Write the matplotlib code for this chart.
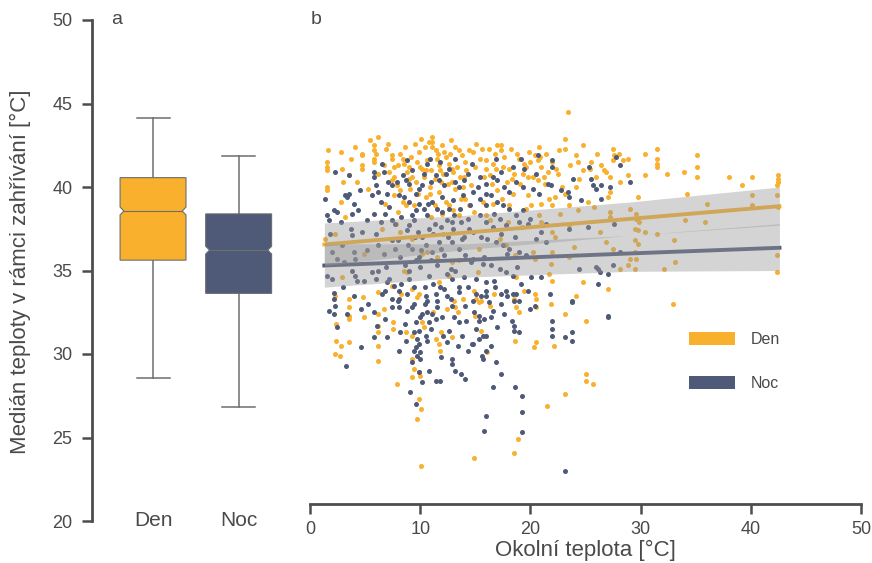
import matplotlib
matplotlib.use('Agg')
import matplotlib.pyplot as plt
from matplotlib.patches import Polygon, Patch
import numpy as np

plt.rcParams['font.family'] = ['Liberation Sans', 'DejaVu Sans']

# --- data: panel a (box summary) ---
groups = ['Den', 'Noc']
box_whislo = [28.54, 26.82]
box_q1 = [35.62, 33.63]
box_med = [38.56, 36.22]
box_q3 = [40.56, 38.39]
box_whishi = [44.14, 41.85]
box_cilo = [38.33, 35.99]
box_cihi = [38.80, 36.45]

# --- data: panel b (scatter) ---
den_points = [
    (1.55, 41.5), (1.55, 41.2), (1.55, 41.0), (1.55, 40.0), (1.55, 39.8), (2.85, 42.1), (2.9, 41.1),
    (3.7, 41.7), (3.5, 40.7), (4.7, 42.0), (4.7, 41.9), (4.7, 41.3), (4.7, 41.1), (2.85, 39.1),
    (6.2, 43.0), (5.8, 42.5), (5.8, 42.2), (5.8, 41.7), (5.8, 41.5), (6.7, 41.3), (6.2, 40.8),
    (7.45, 41.9), (7.45, 41.7), (7.6, 41.2), (8.2, 42.0), (8.4, 41.7), (8.5, 41.4), (9.0, 41.2), (8.8, 40.9),
    (7.9, 40.1), (8.2, 39.8), (7.6, 39.5), (9.3, 40.6), (9.6, 40.3), (9.9, 42.1), (10.0, 41.2), (10.2, 41.1),
    (11.1, 43.0), (11.1, 42.7), (11.1, 42.4), (10.8, 42.7), (11.4, 42.2), (11.5, 41.7), (11.7, 41.3),
    (12.3, 41.8), (12.6, 41.4), (12.9, 41.1), (13.5, 42.2), (13.8, 41.9), (14.1, 41.5), (14.4, 42.2),
    (12.9, 40.3), (13.2, 39.9), (13.7, 39.3), (14.1, 39.3), (14.4, 38.9), (12.3, 39.1), (12.6, 38.9),
    (8.4, 39.1), (8.7, 38.9), (9.4, 38.9), (11.7, 39.7), (10.9, 40.0), (13.5, 38.3), (7.6, 40.6), (7.45, 40.4),
    (2.3, 37.2), (1.4, 36.9), (4.9, 36.0), (2.9, 34.6), (8.5, 35.0), (8.8, 34.9), (7.45, 34.1), (11.7, 34.3),
    (12.6, 34.7), (10.2, 36.0), (10.6, 36.1), (11.5, 35.8), (12.9, 35.5), (13.5, 35.6), (8.2, 37.3), (9.3, 36.9),
    (9.5, 42.6), (10.4, 42.4), (12.0, 42.5), (12.8, 42.8), (13.2, 42.4), (10.6, 41.6), (11.0, 41.0), (12.1, 40.8),
    (13.0, 40.9), (14.0, 40.6), (9.8, 39.6), (10.5, 39.4), (11.3, 38.9), (12.0, 38.4), (13.9, 40.0), (11.9, 40.3),
    (10.3, 40.6), (9.1, 39.9), (8.0, 38.5), (6.8, 39.0), (6.5, 37.5), (5.3, 39.9), (4.3, 40.3), (3.2, 38.2),
    (23.4, 44.5), (23.1, 42.9), (23.1, 42.3), (24.75, 42.5), (17.0, 42.5), (17.3, 42.5), (17.3, 42.2), (20.8, 42.4),
    (19.0, 41.7), (19.45, 41.4), (20.4, 41.9), (20.7, 41.6), (21.0, 41.2), (14.75, 42.1), (15.4, 41.7), (15.96, 41.6),
    (16.6, 41.4), (16.9, 41.1), (17.5, 41.2), (18.1, 41.1), (18.5, 40.8), (19.3, 40.8), (19.75, 40.6), (20.2, 40.6),
    (20.65, 40.4), (21.6, 40.9), (22.5, 40.8), (24.1, 41.9), (24.3, 41.5), (25.5, 41.5), (25.4, 41.1), (26.4, 41.3),
    (27.5, 42.3), (27.6, 41.9), (27.5, 41.6), (28.4, 41.6), (28.85, 41.7), (26.9, 40.9), (27.2, 40.6), (25.96, 40.6),
    (24.45, 40.5), (24.1, 40.0), (28.1, 40.3), (28.85, 40.7), (22.9, 40.0), (23.1, 39.6), (22.2, 39.4), (22.0, 38.9),
    (23.5, 38.9), (27.2, 39.7), (27.0, 39.4), (25.2, 39.1), (21.7, 39.3), (20.05, 38.9), (19.6, 38.7), (18.1, 38.9),
    (16.6, 39.0), (15.7, 39.1), (20.8, 38.3), (20.95, 37.9), (22.0, 37.3), (22.2, 37.0), (23.5, 37.7), (27.2, 38.5),
    (27.2, 38.2), (26.3, 37.3), (29.0, 38.7), (20.2, 36.1), (20.4, 35.7), (22.0, 36.1), (21.9, 35.4), (23.5, 35.8),
    (26.9, 36.7), (27.5, 36.3), (28.1, 35.1), (28.85, 35.3), (29.0, 35.7), (21.7, 34.8), (18.7, 34.6), (24.75, 34.3),
    (22.0, 34.4), (15.2, 34.9), (17.2, 36.9), (17.8, 36.5), (15.1, 42.6), (16.2, 42.3), (15.8, 40.6), (16.5, 40.2),
    (17.9, 40.3), (18.8, 42.0), (19.9, 42.1), (21.4, 42.0), (22.0, 41.5), (21.3, 40.2), (18.4, 39.6), (17.0, 39.8),
    (16.0, 38.3), (19.2, 37.6), (18.0, 37.9),
    (31.45, 42.3), (31.45, 41.7), (31.45, 41.4), (31.45, 41.2), (30.4, 42.0), (30.4, 40.7), (32.4, 40.8), (33.9, 40.9),
    (35.1, 41.9), (35.1, 41.2), (35.1, 40.6), (38.0, 40.6), (40.15, 40.6), (39.2, 40.1), (42.5, 40.7), (42.5, 40.5),
    (42.5, 40.3), (42.4, 40.1), (29.8, 39.4), (34.2, 39.6), (36.05, 39.0), (40.15, 39.5), (40.15, 38.9), (42.4, 39.5),
    (42.5, 38.8), (29.6, 38.4), (29.6, 38.1), (29.9, 37.9), (34.0, 38.0), (35.85, 37.9), (29.5, 37.5), (29.8, 37.4),
    (30.4, 37.3), (31.45, 37.2), (29.5, 36.8), (29.8, 36.6), (33.0, 36.8), (29.5, 36.1), (29.6, 35.7), (33.1, 35.5),
    (32.1, 35.1), (29.5, 35.1), (42.4, 35.9), (42.4, 34.9), (32.9, 33.0),
    (2.3, 33.5), (3.5, 33.3), (3.5, 32.8), (3.5, 32.3), (3.5, 32.1), (4.8, 33.4), (4.9, 32.2), (2.4, 31.8), (2.4, 30.8),
    (2.85, 30.5), (3.5, 30.7), (2.3, 30.0), (2.7, 29.9), (6.2, 33.7), (6.7, 32.7), (6.2, 32.4), (6.2, 31.7), (6.2, 31.3),
    (6.2, 30.5), (6.2, 29.6), (7.5, 31.9), (7.5, 31.5), (7.85, 28.2), (8.3, 33.6), (8.7, 31.3), (9.3, 31.1), (9.3, 29.7),
    (9.4, 29.1), (9.3, 28.6), (9.9, 28.9), (10.0, 28.7), (9.9, 27.3), (10.1, 26.7), (9.7, 26.1), (10.1, 23.3),
    (10.2, 31.9), (10.3, 31.6), (9.3, 33.9), (9.9, 33.6), (11.2, 32.5), (11.4, 30.9), (11.7, 30.6), (11.8, 30.2),
    (11.9, 31.3), (12.9, 31.0), (12.45, 32.7), (13.2, 32.8), (13.4, 32.5), (13.1, 33.2), (9.7, 33.4),
    (14.9, 33.8), (15.05, 33.3), (15.5, 33.2), (15.35, 33.1), (15.0, 32.3), (15.5, 31.4), (16.7, 33.6), (16.3, 32.9),
    (14.9, 23.8), (16.1, 30.1), (18.7, 32.8), (19.0, 32.5), (18.6, 30.8), (20.4, 33.6), (20.5, 33.3), (20.5, 32.8),
    (20.5, 30.7), (20.3, 30.4), (18.5, 33.3), (21.9, 33.0), (22.1, 30.5), (23.1, 32.4), (24.1, 33.5), (25.05, 32.0),
    (25.0, 28.8), (25.0, 28.4), (25.65, 28.2), (23.1, 27.6), (21.5, 26.9), (18.9, 24.9), (18.5, 24.1), (27.0, 33.87),
    (6.0, 42.0), (6.9, 42.3), (7.2, 40.9), (8.0, 41.3), (8.6, 42.4), (9.2, 41.8), (9.7, 41.5), (10.1, 42.9),
    (10.5, 41.0), (10.9, 39.6), (11.3, 40.5), (11.6, 42.0), (11.8, 41.0), (12.2, 42.1), (12.5, 40.2), (12.7, 42.0),
    (13.3, 41.2), (13.6, 40.6), (14.2, 41.0), (14.6, 40.1), (15.0, 41.2), (15.6, 42.3), (16.0, 41.1), (16.3, 40.7),
    (16.8, 42.0), (17.6, 41.8), (18.2, 42.3), (18.3, 40.5), (19.1, 40.2), (19.6, 41.2), (20.0, 41.5), (20.9, 41.8),
    (21.2, 40.6), (22.3, 41.1), (22.6, 42.2), (23.6, 41.3), (24.8, 41.0), (26.0, 42.0), (26.7, 41.0), (28.0, 42.0),
    (13.0, 38.6), (11.0, 38.2), (14.9, 38.5), (16.3, 38.0), (17.4, 39.3), (19.8, 39.5), (21.0, 39.0), (22.7, 38.4),
    (24.3, 38.6), (25.8, 38.8), (9.0, 40.5), (7.1, 42.6), (5.4, 42.8), (4.1, 42.4), (3.0, 40.3), (1.6, 42.2),
    (7.8, 37.8), (12.1, 37.2), (15.3, 36.3), (18.6, 35.9), (24.0, 36.4), (19.4, 33.8), (13.9, 33.3),
]

noc_points = [
    (1.4, 39.3), (2.3, 40.9), (2.15, 38.6), (2.45, 38.5), (1.55, 38.3), (1.7, 38.0), (3.2, 39.5), (3.5, 39.6),
    (3.4, 39.4), (3.5, 40.7), (3.95, 39.0), (3.8, 38.4), (5.8, 40.9), (5.95, 40.1), (5.6, 39.5), (5.8, 40.6),
    (6.5, 41.4), (6.7, 40.9), (6.2, 39.7), (6.4, 39.1), (5.8, 38.4), (7.15, 38.8), (7.45, 40.1), (7.9, 40.3),
    (8.4, 40.7), (8.7, 40.4), (9.0, 40.2), (8.1, 39.5), (8.5, 39.4), (9.0, 39.1), (9.6, 39.6), (9.9, 39.9),
    (10.2, 40.1), (10.3, 40.8), (10.6, 41.4), (10.9, 41.7), (9.9, 39.0), (10.3, 38.7), (10.6, 38.3), (9.3, 38.3),
    (9.4, 38.0), (11.4, 40.7), (11.7, 40.4), (12.2, 40.1), (12.3, 40.8), (12.6, 41.1), (13.2, 41.7), (13.2, 40.3),
    (13.5, 40.0), (14.0, 40.4), (14.3, 40.8), (11.1, 39.1), (11.5, 38.7), (12.0, 38.5), (12.6, 38.7), (13.1, 38.3),
    (13.7, 37.9), (14.3, 38.1), (14.4, 37.5), (10.8, 37.5), (11.2, 37.2), (10.2, 37.0), (9.0, 37.7), (8.8, 37.4),
    (7.45, 38.0), (7.75, 37.8), (6.4, 37.9), (3.7, 37.5), (3.8, 37.1), (4.7, 37.3), (2.0, 36.1), (2.45, 35.7),
    (3.1, 35.5), (3.95, 36.1), (4.1, 35.7), (6.2, 36.5), (6.7, 36.0), (7.75, 36.3), (8.2, 35.8), (9.3, 36.3),
    (9.6, 35.6), (10.5, 36.5), (11.1, 36.1), (11.7, 36.7), (12.2, 35.9), (12.9, 36.7), (13.5, 36.3), (14.1, 35.9),
    (14.6, 35.5), (1.55, 34.7), (2.0, 34.5), (4.1, 34.7), (4.3, 34.4), (3.8, 35.0), (5.6, 34.9), (5.95, 34.5),
    (7.15, 34.5), (7.6, 34.1), (9.0, 34.5), (9.4, 34.0), (10.8, 34.7), (11.2, 34.2), (12.9, 34.5), (13.5, 34.0),
    (14.3, 34.0), (8.0, 36.8), (9.8, 37.3), (11.9, 37.6), (12.5, 37.0), (13.8, 36.9), (10.0, 35.2), (11.5, 35.3),
    (12.8, 35.1), (8.6, 35.3), (6.9, 35.2), (5.2, 36.2), (4.4, 38.6), (7.0, 39.6), (11.0, 40.3), (12.0, 39.4),
    (13.0, 39.2), (9.3, 41.0),
    (19.15, 41.7), (19.45, 41.1), (18.4, 41.2), (22.0, 41.6), (22.0, 41.2), (20.65, 41.9), (15.4, 40.6), (15.96, 40.2),
    (16.6, 40.6), (17.0, 40.4), (17.6, 40.0), (18.1, 39.7), (18.7, 40.3), (19.3, 40.0), (20.2, 39.9), (20.8, 39.6),
    (21.6, 40.2), (21.9, 40.1), (22.8, 39.8), (23.4, 39.7), (23.5, 39.4), (25.5, 40.5), (25.7, 40.1), (26.4, 40.1),
    (27.8, 41.8), (28.1, 41.3), (29.0, 40.3), (14.75, 39.7), (15.4, 39.3), (15.96, 38.9), (16.4, 39.5), (17.0, 39.1),
    (17.5, 38.9), (18.1, 38.7), (18.7, 38.3), (15.4, 38.3), (15.96, 37.9), (16.6, 37.6), (17.2, 38.1), (17.8, 37.7),
    (19.0, 37.9), (19.75, 37.8), (21.4, 37.8), (14.75, 37.3), (15.5, 37.0), (16.1, 36.9), (16.9, 36.7), (17.5, 36.5),
    (18.1, 36.3), (19.0, 36.1), (19.6, 35.9), (14.75, 35.7), (15.7, 35.4), (16.4, 35.3), (17.2, 35.1), (17.8, 34.9),
    (18.4, 34.7), (15.05, 34.5), (15.96, 34.3), (16.7, 34.4), (19.15, 34.2), (20.05, 34.6), (20.95, 34.6), (23.5, 37.5),
    (25.2, 37.6), (24.45, 35.1), (26.1, 35.1), (26.3, 34.9), (26.1, 34.2), (27.5, 35.3), (28.1, 36.1), (21.4, 36.7),
    (25.3, 41.2), (25.96, 39.9), (27.2, 40.0), (26.4, 39.3), (27.6, 37.8), (25.96, 35.2), (27.0, 34.8), (27.0, 32.2),
    (2.15, 33.67), (2.15, 33.27), (2.3, 32.87), (2.15, 32.37), (1.7, 32.57), (2.45, 31.6), (3.4, 32.4), (4.6, 32.7),
    (4.6, 30.4), (3.3, 29.3), (5.8, 32.5), (6.1, 31.7), (5.8, 31.0), (6.5, 33.6), (6.85, 32.1), (7.45, 33.3), (8.1, 33.3),
    (8.1, 32.8), (8.2, 31.3), (8.1, 30.2), (8.8, 32.6), (9.3, 32.8), (9.4, 33.0), (9.6, 31.9), (9.4, 31.3), (9.9, 31.4),
    (10.0, 32.2), (10.2, 32.4), (9.7, 30.9), (9.9, 30.6), (9.6, 30.4), (9.4, 30.2), (9.7, 29.9), (10.0, 29.7), (9.3, 29.5),
    (9.9, 28.9), (10.2, 28.3), (9.1, 27.7), (9.6, 27.0), (10.5, 33.5), (10.6, 33.2), (10.6, 32.5), (10.8, 31.9),
    (10.6, 30.8), (11.4, 33.6), (11.5, 33.2), (11.5, 32.8), (11.4, 32.1), (11.1, 32.4), (10.5, 31.1), (10.0, 30.1),
    (11.4, 28.4), (11.8, 28.4), (12.45, 33.5), (12.8, 33.3), (12.9, 32.9), (12.15, 33.87), (13.1, 32.2), (13.5, 31.9),
    (12.4, 30.7), (12.9, 29.7), (12.9, 29.4), (13.7, 28.8), (14.1, 28.5), (14.3, 30.2), (14.1, 32.9), (14.2, 32.0),
    (14.7, 30.6), (13.5, 33.7), (8.1, 33.8), (8.8, 33.6), (6.85, 33.8), (7.45, 32.8),
    (15.05, 33.6), (15.5, 33.5), (16.0, 33.5), (16.0, 33.8), (14.9, 32.5), (15.35, 32.3), (15.8, 32.1), (15.35, 32.0),
    (15.05, 31.5), (14.75, 30.6), (15.7, 31.1), (16.0, 31.1), (16.4, 30.5), (16.0, 30.2), (15.6, 29.9), (15.7, 29.7),
    (16.9, 29.5), (17.3, 28.8), (16.6, 28.0), (15.96, 26.3), (15.75, 25.4), (16.6, 32.6), (16.4, 32.2), (17.3, 33.6),
    (17.3, 33.0), (17.9, 33.5), (18.4, 33.6), (18.5, 33.2), (18.7, 33.6), (18.3, 32.0), (18.5, 31.7), (18.5, 31.4),
    (19.0, 31.3), (19.0, 33.2), (19.75, 33.8), (19.95, 32.7), (20.4, 32.9), (18.6, 28.0), (19.2, 27.5), (19.2, 26.5),
    (19.2, 25.3), (21.8, 33.6), (22.0, 32.0), (22.0, 31.5), (22.0, 31.1), (23.8, 33.2), (23.8, 33.1), (23.8, 31.3),
    (23.1, 31.0), (23.8, 30.8), (27.0, 32.3), (23.1, 23.0),
    (5.2, 38.0), (6.0, 37.2), (6.8, 38.4), (7.4, 36.8), (8.3, 38.2), (8.9, 36.5), (9.6, 38.6), (10.1, 36.2),
    (10.7, 39.0), (11.3, 37.8), (11.9, 36.3), (12.4, 38.0), (13.0, 37.5), (13.6, 38.7), (14.0, 37.0), (14.5, 38.9),
    (15.2, 40.0), (16.0, 39.6), (16.7, 38.4), (17.3, 37.2), (17.9, 36.0), (18.6, 37.0), (19.3, 38.6), (20.0, 38.1),
    (20.5, 36.9), (21.0, 37.3), (7.0, 34.3), (8.0, 33.2), (9.0, 35.0), (10.4, 34.0), (11.0, 35.6), (11.8, 34.0),
    (12.4, 34.8), (13.2, 35.0), (14.0, 34.6), (14.8, 33.2), (15.8, 35.8), (16.8, 34.0), (17.8, 33.8), (18.8, 35.2),
    (10.4, 33.0), (11.0, 31.5), (12.0, 32.2), (12.6, 31.4), (13.4, 30.5), (8.6, 31.8), (7.0, 31.0), (5.3, 33.0),
    (4.0, 33.5), (3.0, 34.0), (11.9, 29.8), (13.2, 29.0), (10.8, 29.0), (8.7, 30.8), (15.3, 30.9), (17.0, 31.6),
    (17.6, 32.4), (16.2, 33.1), (13.8, 31.1), (12.1, 31.1), (9.9, 35.8), (8.3, 34.2), (6.2, 35.0), (4.9, 34.4),
    (2.9, 36.5), (1.8, 37.2), (2.8, 37.9), (4.5, 39.8), (8.8, 41.6), (11.8, 41.5), (14.7, 41.4), (16.9, 41.7),
    (17.3, 40.9), (20.5, 40.8), (23.9, 40.5), (24.6, 39.2), (7.1, 40.3), (13.9, 39.5), (12.9, 37.9), (9.5, 37.0),
]

# regression lines and confidence bands
fit_x = [1.3, 14.0, 29.0, 42.6]
den_fit = [36.56, 37.26, 38.09, 38.85]
den_lo = [35.30, 36.25, 37.10, 37.72]
den_hi = [37.85, 38.30, 39.10, 40.00]
noc_fit = [35.30, 35.63, 36.02, 36.36]
noc_lo = [34.00, 34.60, 34.95, 35.00]
noc_hi = [36.60, 36.60, 37.10, 37.80]

col_den = '#F9B02C'
col_noc = '#4F5A78'
txt_col = '#4a4a4a'
ax_col = '#4d4d4d'

fig = plt.figure(figsize=(8.72, 5.63), dpi=100)

# ---------- panel a ----------
ax1 = fig.add_axes([92 / 872, 42 / 563, 198 / 872, 501 / 563])
ax1.set_xlim(0.287, 2.6)
ax1.set_ylim(20, 50)
width = 0.77
depth = 0.045
for i, (g, c) in enumerate(zip(groups, [col_den, col_noc])):
    pos = i + 1
    l, r = pos - width / 2, pos + width / 2
    verts = [(l, box_q1[i]), (r, box_q1[i]), (r, box_cilo[i]), (r - depth, box_med[i]),
             (r, box_cihi[i]), (r, box_q3[i]), (l, box_q3[i]), (l, box_cihi[i]),
             (l + depth, box_med[i]), (l, box_cilo[i])]
    ax1.add_patch(Polygon(verts, closed=True, facecolor=c, edgecolor='#6e6e6e', lw=0.8, zorder=3))
    ax1.plot([l + depth, r - depth], [box_med[i], box_med[i]], color='#6e6e6e', lw=0.8, zorder=4)
    ax1.plot([pos, pos], [box_q3[i], box_whishi[i]], color='#6e6e6e', lw=1.1, zorder=2)
    ax1.plot([pos, pos], [box_q1[i], box_whislo[i]], color='#6e6e6e', lw=1.1, zorder=2)
    ax1.plot([pos - width / 4, pos + width / 4], [box_whishi[i]] * 2, color='#6e6e6e', lw=1.1)
    ax1.plot([pos - width / 4, pos + width / 4], [box_whislo[i]] * 2, color='#6e6e6e', lw=1.1)
    ax1.text(pos, 20, g, ha='center', va='center', fontsize=15, color=txt_col)

for s in ['top', 'right', 'bottom']:
    ax1.spines[s].set_visible(False)
ax1.spines['left'].set_linewidth(2)
ax1.spines['left'].set_color(ax_col)
ax1.set_xticks([])
ax1.set_yticks(np.arange(20, 51, 5))
ax1.tick_params(axis='y', length=7, width=1.8, color=ax_col, labelsize=13,
                labelcolor=txt_col, pad=7)
ax1.text(0.126, 1.0, 'a', transform=ax1.transAxes, ha='center', va='center',
         fontsize=14, color=txt_col)

# ---------- panel b ----------
ax2 = fig.add_axes([310 / 872, 42 / 563, 551 / 872, 501 / 563])
ax2.set_xlim(0, 50)
ax2.set_ylim(20, 50)
dx, dy = zip(*den_points)
nx, ny = zip(*noc_points)
ax2.scatter(dx, dy, s=13, color=col_den, linewidths=0, zorder=2)
ax2.scatter(nx, ny, s=13, color=col_noc, linewidths=0, zorder=2)
ax2.plot(fit_x, den_fit, color=col_den, lw=2.8, zorder=3)
ax2.plot(fit_x, noc_fit, color=col_noc, lw=2.8, zorder=3)
ax2.fill_between(fit_x, den_lo, den_hi, color='#999999', alpha=0.42, lw=0, zorder=4)
ax2.fill_between(fit_x, noc_lo, noc_hi, color='#999999', alpha=0.42, lw=0, zorder=4)

for s in ['top', 'right', 'left']:
    ax2.spines[s].set_visible(False)
ax2.spines['bottom'].set_position(('data', 21.0))
ax2.spines['bottom'].set_linewidth(2)
ax2.spines['bottom'].set_color(ax_col)
ax2.set_yticks([])
ax2.set_xticks(np.arange(0, 51, 10))
ax2.tick_params(axis='x', length=7, width=1.8, color=ax_col, labelsize=13,
                labelcolor=txt_col, pad=5)
ax2.text(0.011, 1.0, 'b', transform=ax2.transAxes, ha='center', va='center',
         fontsize=14, color=txt_col)

handles = [Patch(facecolor=col_den, edgecolor='none'), Patch(facecolor=col_noc, edgecolor='none')]
leg = ax2.legend(handles, groups, loc='upper left', bbox_to_anchor=(0.687, 0.377),
                 frameon=False, fontsize=11.5, handlelength=2.9, handleheight=0.85,
                 handletextpad=1.0, labelspacing=1.8, borderpad=0, borderaxespad=0)
for t in leg.get_texts():
    t.set_color(txt_col)

fig.text(20 / 872, 1 - 272 / 563, 'Medián teploty v rámci zahřívání [°C]', rotation=90,
         ha='center', va='center', fontsize=16, color=txt_col)
fig.text(585 / 872, 1 - 550 / 563, 'Okolní teplota [°C]', ha='center', va='center',
         fontsize=16, color=txt_col)

fig.savefig('out.png', dpi=100)
